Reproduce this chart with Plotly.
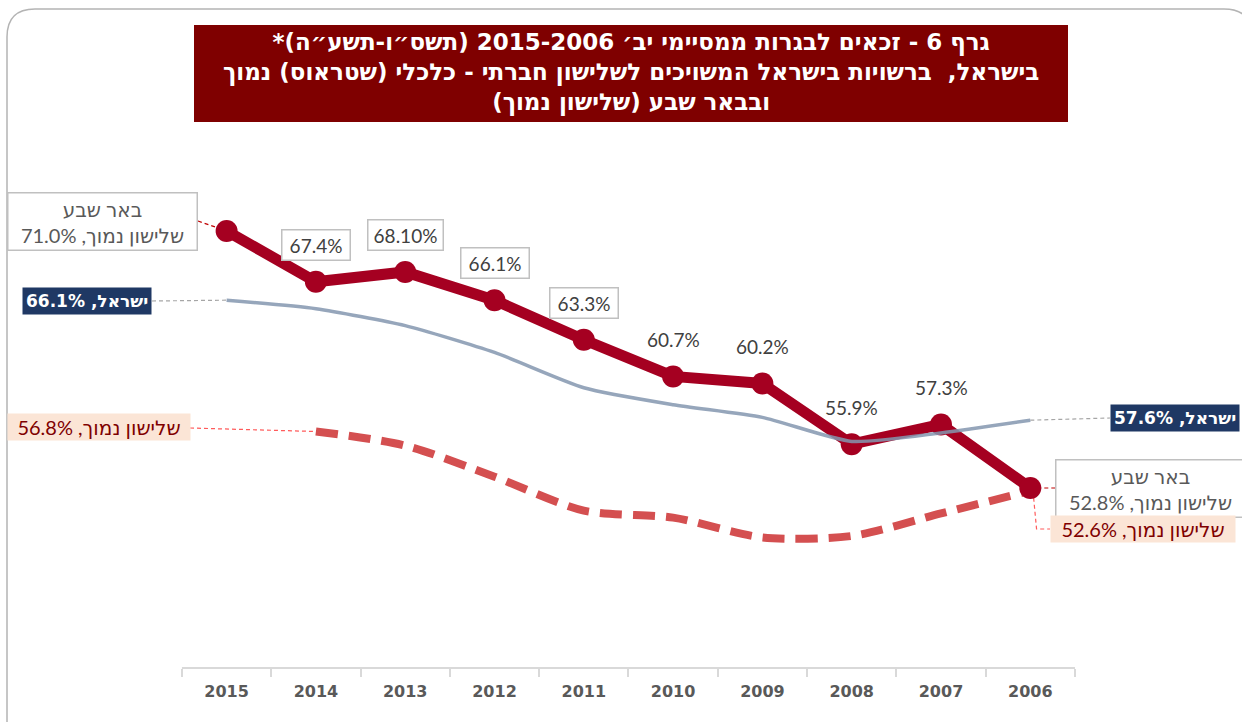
import plotly.graph_objects as go

# ---------------- data ----------------
years = ["2015", "2014", "2013", "2012", "2011", "2010", "2009", "2008", "2007", "2006"]
beer_sheva = [71.0, 67.4, 68.1, 66.1, 63.3, 60.7, 60.2, 55.9, 57.3, 52.8]
israel = [66.1, 65.5, 64.3, 62.4, 59.9, 58.7, 57.8, 56.1, 56.7, 57.6]
low_ses = [None, 56.8, 55.8, 53.6, 51.2, 50.7, 49.3, 49.4, 51.0, 52.6]
beer_labels = ["", "67.4%", "68.10%", "66.1%", "63.3%", "60.7%", "60.2%", "55.9%", "57.3%", ""]
boxed_labels = [False, True, True, True, True, False, False, False, False, False]

title_lines = [
    "גרף 6 - זכאים לבגרות ממסיימי יב׳ 2015-2006 (תשס״ו-תשע״ה)*",
    "בישראל,  ברשויות בישראל המשויכים לשלישון חברתי - כלכלי (שטראוס) נמוך",
    "ובבאר שבע (שלישון נמוך)",
]
name_beer = "באר שבע"
name_low = "שלישון נמוך"
name_isr = "ישראל"

# ---------------- frame ----------------
W, H = 1242, 722
PLOT_TOP, PLOT_BOTTOM = 103, 668
X0PX, DX = 226.6, 89.3          # pixel of first category, category spacing
Y_REF_PX, Y_REF_V, DY = 231.0, 71.0, 14.12


def px2x(px):
    return (px - X0PX) / DX


def py2y(py):
    return Y_REF_V - (py - Y_REF_PX) / DY


def pxp(px):
    return px / W


def pyp(py):
    return (PLOT_BOTTOM - py) / (PLOT_BOTTOM - PLOT_TOP)


def rtl(s):
    return "\u202b" + s + "\u202c"


idx = list(range(len(years)))
RED = "#a50021"
LOWC = "#d44f50"
ISRC = "#8497b0"
NAVY = "#1f3864"

fig = go.Figure()


def leader(xs, ys, color, width=1.2):
    fig.add_trace(go.Scatter(x=xs, y=ys, mode="lines", hoverinfo="skip",
                             line=dict(color=color, width=width, dash="4px,3px"),
                             showlegend=False))


# leader lines
leader([px2x(198), 0], [py2y(221), beer_sheva[0]], "#c00000")
leader([px2x(152), 0], [py2y(301), israel[0]], "#a6a6a6")
leader([px2x(190), 1], [py2y(428), low_ses[1]], "#ff5b5b")
leader([9, px2x(1110)], [israel[9], py2y(418)], "#a6a6a6")
leader([9, px2x(1057)], [beer_sheva[9], beer_sheva[9]], "#c00000")
leader([9.03, 9.07, px2x(1050)], [low_ses[9], py2y(529), py2y(529)], "#ff5b5b")

# series
fig.add_trace(go.Scatter(x=idx, y=low_ses, mode="lines", name=name_low,
                         line=dict(color=LOWC, width=8, dash="22px,11px", shape="spline", smoothing=0.8),
                         showlegend=False))
fig.add_trace(go.Scatter(x=idx, y=beer_sheva, mode="lines+markers", name=name_beer,
                         line=dict(color=RED, width=11),
                         marker=dict(color=RED, size=22),
                         showlegend=False))
fig.add_trace(go.Scatter(x=idx, y=israel, mode="lines", name=name_isr,
                         line=dict(color=ISRC, width=3.5, shape="spline", smoothing=0.6),
                         opacity=0.85, showlegend=False))

annotations = []

# title
annotations.append(dict(
    xref="paper", yref="paper", x=pxp(631), y=pyp(73), xanchor="center", yanchor="middle",
    text="<br>".join(rtl(t) for t in title_lines), showarrow=False, align="center",
    font=dict(family="DejaVu Sans", size=23, color="white", weight="bold"),
))

# data labels (Beer Sheva)
for i, lab in enumerate(beer_labels):
    if not lab:
        continue
    a = dict(x=i, y=beer_sheva[i], xref="x", yref="y", text=lab, showarrow=False,
             yshift=37, font=dict(family="Lato", size=19, color="#404040"))
    if boxed_labels[i]:
        a.update(bordercolor="#c0c0c0", borderwidth=1.5, bgcolor="white", borderpad=3,
                 width=61 if len(lab) <= 5 else 68)
    annotations.append(a)

grey_font = dict(family="Lato, DejaVu Sans", size=20, color="#595959")
isr_font = dict(family="DejaVu Sans", size=17, color="white", weight="bold")
low_font = dict(family="Lato, DejaVu Sans", size=20, color="#7f0000")

# left callouts
annotations.append(dict(
    x=px2x(102.5), y=py2y(221.5), xref="x", yref="y", showarrow=False, align="center",
    text=rtl(name_beer) + "<br>" + rtl(f"{name_low}, {beer_sheva[0]:.1f}%"),
    font=grey_font, bgcolor="white", bordercolor="#c0c0c0", borderwidth=1.5, borderpad=3, width=182))
annotations.append(dict(
    x=px2x(87), y=py2y(301), xref="x", yref="y", showarrow=False,
    text=rtl(f"{name_isr}, {israel[0]:.1f}%"), font=isr_font, bgcolor=NAVY, borderpad=3))
annotations.append(dict(
    x=px2x(98.5), y=py2y(427), xref="x", yref="y", showarrow=False,
    text=rtl(f"{name_low}, {low_ses[1]:.1f}%"), font=low_font, bgcolor="#fbe5d6", borderpad=1, width=180))

# right callouts
annotations.append(dict(
    x=px2x(1175), y=py2y(418), xref="x", yref="y", showarrow=False,
    text=rtl(f"{name_isr}, {israel[9]:.1f}%"), font=isr_font, bgcolor=NAVY, borderpad=3))
annotations.append(dict(
    x=px2x(1150), y=py2y(488), xref="x", yref="y", showarrow=False, align="center",
    text=rtl(name_beer) + "<br>" + rtl(f"{name_low}, {beer_sheva[9]:.1f}%"),
    font=grey_font, bgcolor="white", bordercolor="#c0c0c0", borderwidth=1.5, borderpad=3, width=182))
annotations.append(dict(
    x=px2x(1142.5), y=py2y(529), xref="x", yref="y", showarrow=False,
    text=rtl(f"{name_low}, {low_ses[9]:.1f}%"), font=low_font, bgcolor="#fbe5d6", borderpad=1, width=182))

# shapes: rounded border, title box, x axis line
bx0, by0, bx1, r = 7, 9, 1252, 28
border_path = (
    f"M {pxp(bx0)},{pyp(730)} L {pxp(bx0)},{pyp(by0 + r)} "
    f"Q {pxp(bx0)},{pyp(by0)} {pxp(bx0 + r)},{pyp(by0)} "
    f"L {pxp(bx1 - r)},{pyp(by0)} Q {pxp(bx1)},{pyp(by0)} {pxp(bx1)},{pyp(by0 + r)} "
    f"L {pxp(bx1)},{pyp(730)}"
)
shapes = [
    dict(type="path", xref="paper", yref="paper", path=border_path,
         line=dict(color="#b4b4b4", width=1.5), layer="below"),
    dict(type="rect", xref="paper", yref="paper", x0=pxp(194), x1=pxp(1068), y0=pyp(122), y1=pyp(25),
         fillcolor="#7f0000", line=dict(width=0), layer="below"),
    dict(type="line", xref="x", yref="paper", x0=-0.5, x1=len(years) - 0.5, y0=0, y1=0,
         line=dict(color="#d9d9d9", width=2)),
]

fig.update_layout(
    width=W, height=H,
    margin=dict(l=0, r=0, t=PLOT_TOP, b=H - PLOT_BOTTOM, pad=0),
    paper_bgcolor="white", plot_bgcolor="white",
    showlegend=False,
    annotations=annotations,
    shapes=shapes,
    xaxis=dict(range=[px2x(0), px2x(W)], tickmode="array", tickvals=idx, ticktext=years,
               showgrid=False, zeroline=False, showline=False, ticks="",
               tickfont=dict(family="DejaVu Sans", size=16, color="#595959", weight="bold"),
               ticklabelstandoff=12,
               minor=dict(tickmode="array", tickvals=[i - 0.5 for i in range(len(years) + 1)],
                          ticks="outside", ticklen=8, tickcolor="#d9d9d9", tickwidth=2, showgrid=False),
               fixedrange=True),
    yaxis=dict(range=[py2y(PLOT_BOTTOM), py2y(PLOT_TOP)], visible=False, fixedrange=True),
)

fig.write_html("out.html", config={"displayModeBar": False},
               post_script="document.body.style.margin='0';document.body.style.overflow='hidden';")
